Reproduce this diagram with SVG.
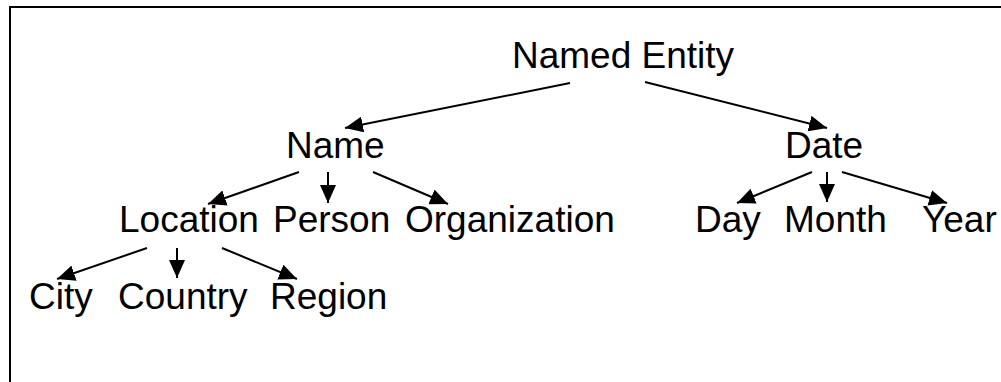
<svg xmlns="http://www.w3.org/2000/svg" width="1001" height="382" viewBox="0 0 1001 382">
<defs>
<style>
text{font-family:"Liberation Sans",Arial,sans-serif;font-size:37px;fill:#000}
.c line{stroke:#000;stroke-width:2;marker-end:url(#ah)}
</style>
<marker id="ah" markerUnits="userSpaceOnUse" markerWidth="19" markerHeight="16" refX="18" refY="8" orient="auto">
<path d="M0,0 L18,8 L0,16 z" fill="#000"/>
</marker>
</defs>
<rect x="0" y="0" width="1001" height="382" fill="#fff"/>
<rect x="10" y="7" width="1010" height="400" fill="none" stroke="#000" stroke-width="2"/>
<g class="c" id="connectors">
<line x1="570" y1="83" x2="345" y2="128"/>
<line x1="645" y1="82" x2="827" y2="128"/>
<line x1="299" y1="172" x2="208" y2="204"/>
<line x1="328" y1="172" x2="328" y2="203"/>
<line x1="373" y1="172" x2="448" y2="204"/>
<line x1="147" y1="248" x2="57" y2="279"/>
<line x1="177" y1="248" x2="177" y2="278"/>
<line x1="222" y1="248" x2="297" y2="279"/>
<line x1="812" y1="172" x2="737" y2="203"/>
<line x1="827" y1="172" x2="827" y2="202"/>
<line x1="842" y1="172" x2="947" y2="203"/>
</g>
<g id="named-entity"><text x="512" y="68">Named Entity</text></g>
<g id="name"><text x="286" y="158">Name</text></g>
<g id="date"><text x="785" y="158">Date</text></g>
<g id="location"><text x="119" y="232">Location</text></g>
<g id="person"><text x="273" y="232">Person</text></g>
<g id="organization"><text x="405" y="232">Organization</text></g>
<g id="day"><text x="695" y="232">Day</text></g>
<g id="month"><text x="784" y="232">Month</text></g>
<g id="year"><text x="922" y="232">Year</text></g>
<g id="city"><text x="29" y="309">City</text></g>
<g id="country"><text x="118" y="309">Country</text></g>
<g id="region"><text x="270" y="309">Region</text></g>
</svg>
